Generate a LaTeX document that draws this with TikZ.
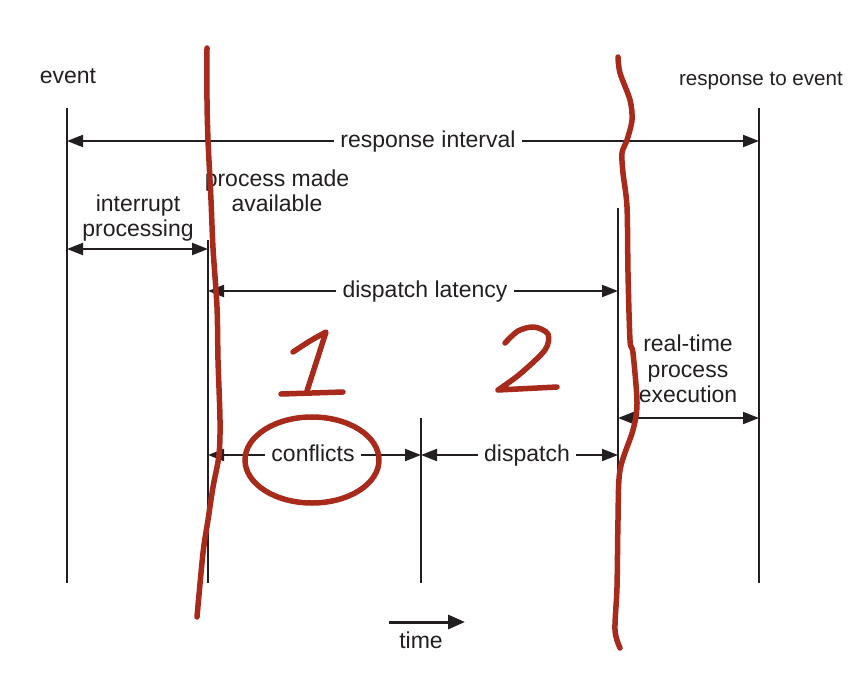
\documentclass[tikz,border=0pt]{standalone}
\usepackage{fontspec}
\setmainfont{Liberation Sans}
\usepackage{xcolor}
\usepackage{tikz}
\usetikzlibrary{arrows.meta}

\definecolor{ink}{RGB}{35,31,32}
\definecolor{pen}{RGB}{168,42,26}
\tikzset{
  timeline/.style={draw=ink, line width=2pt},
  span/.style={draw=ink, line width=2pt, -{Triangle[length=16pt,width=12pt]}},
  twospan/.style={draw=ink, line width=2pt, {Triangle[length=16pt,width=12pt]}-{Triangle[length=16pt,width=12pt]}},
  lbl/.style={text=ink, inner sep=0pt, font=\fontsize{23}{25.5}\selectfont, align=center},
  onspan/.style={lbl, inner xsep=6pt, text height=12pt, text depth=0pt},
  redpen/.style={draw=pen, line width=5.5pt, line cap=round, line join=round}
}

\begin{document}
\begin{tikzpicture}[x=1pt, y=-1pt]
        \useasboundingbox (0,0) rectangle (850,674);
        %KOORDINAT
        \coordinate (evTop) at (67,108);
        \coordinate (evBot) at (67,583);
        \coordinate (paTop) at (208,240);
        \coordinate (paBot) at (208,583);
        \coordinate (cfTop) at (421,418);
        \coordinate (cfBot) at (421,583);
        \coordinate (rtTop) at (618,208);
        \coordinate (rtBot) at (618,583);
        \coordinate (reTop) at (759,108);
        \coordinate (reBot) at (759,583);
        \coordinate (ip) at (138,249);
        \coordinate (rx) at (688,418);
        \coordinate (tmL) at (389,622);
        \coordinate (tmR) at (465,622);
        %TEKS
        \node[lbl, anchor=base] (evTxt) at (68,84) {event};
        \node[lbl, anchor=base, font=\fontsize{20.6}{24}\selectfont] (reTxt) at (761,85) {response to event};
        \node[onspan] (riTxt) at (428,141) {response interval};
        \node[lbl] (ipTxt) at (138,218) {interrupt\\processing};
        \node[lbl] (paTxt) at (277,191) {process made\\available};
        \node[onspan] (dlTxt) at (425,291) {dispatch latency};
        \node[lbl] (rxTxt) at (688,369) {real-time\\process\\execution};
        \node[onspan] (cfTxt) at (313,455) {conflicts};
        \node[onspan] (dpTxt) at (527,455) {dispatch};
        \node[lbl, anchor=base] (tmTxt) at (421,648) {time};
        %GARIS WAKTU
        \draw[timeline] (evTop) -- (evBot);
        \draw[timeline] (paTop) -- (paBot);
        \draw[timeline] (cfTop) -- (cfBot);
        \draw[timeline] (rtTop) -- (rtBot);
        \draw[timeline] (reTop) -- (reBot);
        %PANAH
        \draw[span] (riTxt) -- (evTop |- riTxt);
        \draw[span] (riTxt) -- (reTop |- riTxt);
        \draw[twospan] (evTop |- ip) -- (paTop |- ip);
        \draw[span] (dlTxt) -- (paTop |- dlTxt);
        \draw[span] (dlTxt) -- (rtTop |- dlTxt);
        \draw[twospan] (rtTop |- rx) -- (reTop |- rx);
        \draw[span] (cfTxt) -- (paTop |- cfTxt);
        \draw[span] (cfTxt) -- (cfTop |- cfTxt);
        \draw[span] (dpTxt) -- (cfTop |- dpTxt);
        \draw[span] (dpTxt) -- (rtTop |- dpTxt);
        \draw[span, line width=3pt, -{Triangle[length=17pt,width=14pt]}] (tmL) -- (tmR);
        %CORETAN MERAH
        \draw[redpen] plot[smooth] coordinates {(207,48) (207,100) (208,140) (211,200) (213,248) (217,307) (218,360) (220,420) (219,455) (213,487) (208,520) (203,553) (197,617)};
        \draw[redpen] plot[smooth] coordinates {(618,57) (620,73) (630,100) (632,120) (627,140) (622,153) (623,173) (627,207) (628,273) (630,340) (633,353) (637,403) (633,430) (620,470) (618,520) (617,587) (615,630) (620,648)};
        \draw[redpen] (312,460) ellipse (67 and 43);
        %ANGKA
        \draw[redpen] plot[smooth] coordinates {(293,352) (310,341) (326,332)} -- (307,391);
        \draw[redpen] (281,394) -- (343,392);
        \draw[redpen] plot[smooth] coordinates {(505,343) (518,331) (534,327) (548,334) (545,350) (520,374) (498,390)} -- (557,387);
\end{tikzpicture}
\end{document}
